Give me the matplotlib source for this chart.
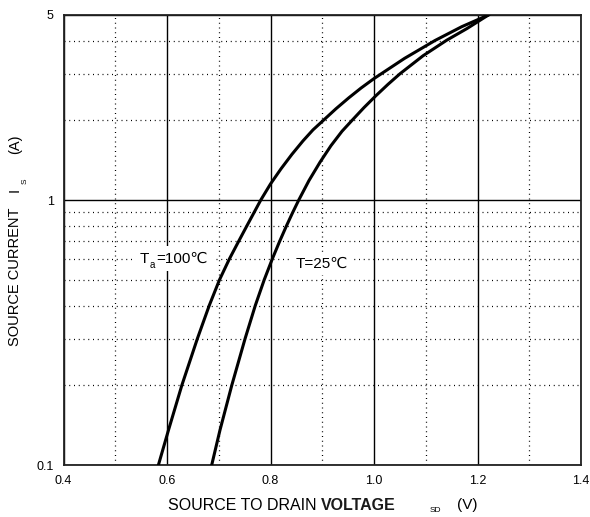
import numpy as np
import matplotlib
matplotlib.use('Agg')
import matplotlib.pyplot as plt
import matplotlib.transforms as mtransforms
from matplotlib.ticker import FixedLocator, NullFormatter

# フォント設定（℃ は DejaVu Sans にフォールバック）
plt.rcParams['font.family'] = ['Liberation Sans', 'DejaVu Sans']

# Ta=100℃ の曲線 (V_SD [V], I_S [A])
v_100 = [0.5834, 0.6029, 0.6287, 0.6587, 0.6816, 0.7014, 0.7206, 0.7386, 0.7544, 0.7685,
         0.7811, 0.800, 0.8203, 0.8415, 0.8628, 0.8821, 0.902, 0.9266, 0.9511, 0.9749,
         1.000, 1.0589, 1.1179, 1.1695, 1.221]
i_100 = [0.10, 0.1355, 0.20, 0.30, 0.40, 0.50, 0.60, 0.70, 0.80, 0.90,
         1.00, 1.151, 1.313, 1.490, 1.674, 1.842, 2.00, 2.214, 2.432, 2.649,
         2.877, 3.428, 4.006, 4.516, 5.00]

# T=25℃ の曲線
v_25 = [0.6864, 0.7024, 0.7252, 0.7509, 0.7706, 0.7878, 0.8035, 0.8178, 0.8309, 0.8431,
        0.8545, 0.8744, 0.8957, 0.9169, 0.9382, 0.9575, 0.9807, 1.0039, 1.0271, 1.0502,
        1.0947, 1.1405, 1.1797, 1.221]
i_25 = [0.10, 0.1355, 0.20, 0.30, 0.40, 0.50, 0.60, 0.70, 0.80, 0.90,
        1.00, 1.186, 1.391, 1.606, 1.820, 2.00, 2.236, 2.481, 2.737, 3.00,
        3.507, 4.016, 4.445, 5.00]

# 目盛り
x_major = [0.4, 0.6, 0.8, 1.0, 1.2, 1.4]
x_minor = [0.5, 0.7, 0.9, 1.1, 1.3]
x_labels = ['0.4', '0.6', '0.8', '1.0', '1.2', '1.4']
y_major = [0.1, 1, 5]
y_minor = [0.2, 0.3, 0.4, 0.5, 0.6, 0.7, 0.8, 0.9, 2, 3, 4]
y_labels = ['0.1', '1', '5']

fig = plt.figure(figsize=(5.90, 5.17), dpi=100)
ax = fig.add_axes([63.5 / 590, 1 - 465 / 517, (581 - 63.5) / 590, (465 - 15) / 517])

ax.set_yscale('log')
ax.set_xlim(0.4, 1.4)
ax.set_ylim(0.1, 5)

ax.xaxis.set_major_locator(FixedLocator(x_major))
ax.xaxis.set_minor_locator(FixedLocator(x_minor))
ax.set_xticklabels(x_labels)
ax.yaxis.set_major_locator(FixedLocator(y_major))
ax.yaxis.set_minor_locator(FixedLocator(y_minor))
ax.set_yticklabels(y_labels)
ax.yaxis.set_minor_formatter(NullFormatter())
ax.tick_params(which='both', length=0, labelsize=9, pad=7)

# グリッド
ax.grid(which='major', color='black', linewidth=1.0, linestyle='-')
ax.grid(which='minor', color='black', linewidth=0.9, linestyle=(0, (0.8, 3.0)))
ax.set_axisbelow(True)

for s in ax.spines.values():
    s.set_linewidth(1.3)
    s.set_color('#222222')

# 曲線
ax.plot(v_100, i_100, color='black', linewidth=2.2, zorder=3,
        solid_joinstyle='round')
ax.plot(v_25, i_25, color='black', linewidth=2.2, zorder=3,
        solid_joinstyle='round')

# ラベル Ta=100℃ （添字を分けて描く）
white = dict(facecolor='white', edgecolor='none', pad=4)
ax.text(0.548, 0.60, 'T', fontsize=11, va='center', ha='left', zorder=2, bbox=white)
ax.text(0.548, 0.60, '=100℃', fontsize=11, va='center', ha='left', zorder=2, bbox=white,
        transform=mtransforms.offset_copy(ax.transData, fig=fig, x=16, y=0, units='dots'))
ax.text(0.548, 0.60, 'a', fontsize=7, va='center', ha='left', zorder=2.5,
        transform=mtransforms.offset_copy(ax.transData, fig=fig, x=10, y=-6, units='dots'))

ax.text(0.849, 0.573, 'T=25℃', fontsize=11, va='center', ha='left',
        zorder=2, bbox=dict(facecolor='white', edgecolor='none', pad=3))

# 軸ラベル
fig.text(168 / 590, 1 - 505 / 517, 'SOURCE TO DRAIN', fontsize=11.5,
         ha='left', va='center')
fig.text(321 / 590, 1 - 505 / 517, 'VOLTAGE', fontsize=11.5, fontweight='bold',
         ha='left', va='center', color='#1a1a1a')
fig.text(435 / 590, 1 - 511 / 517, 'SD', fontsize=6, ha='center', va='center')
fig.text(467 / 590, 1 - 505 / 517, '(V)', fontsize=11, ha='center', va='center')

fig.text(15 / 590, 1 - 277 / 517, 'SOURCE CURRENT', fontsize=10.5, rotation=90,
         ha='center', va='center')
fig.text(15 / 590, 1 - 190 / 517, 'I', fontsize=10.5, rotation=90,
         ha='center', va='center')
fig.text(25 / 590, 1 - 181 / 517, 'S', fontsize=6, rotation=90,
         ha='center', va='center')
fig.text(15 / 590, 1 - 144 / 517, '(A)', fontsize=10.5, rotation=90,
         ha='center', va='center')

fig.savefig('out.png', dpi=100)
